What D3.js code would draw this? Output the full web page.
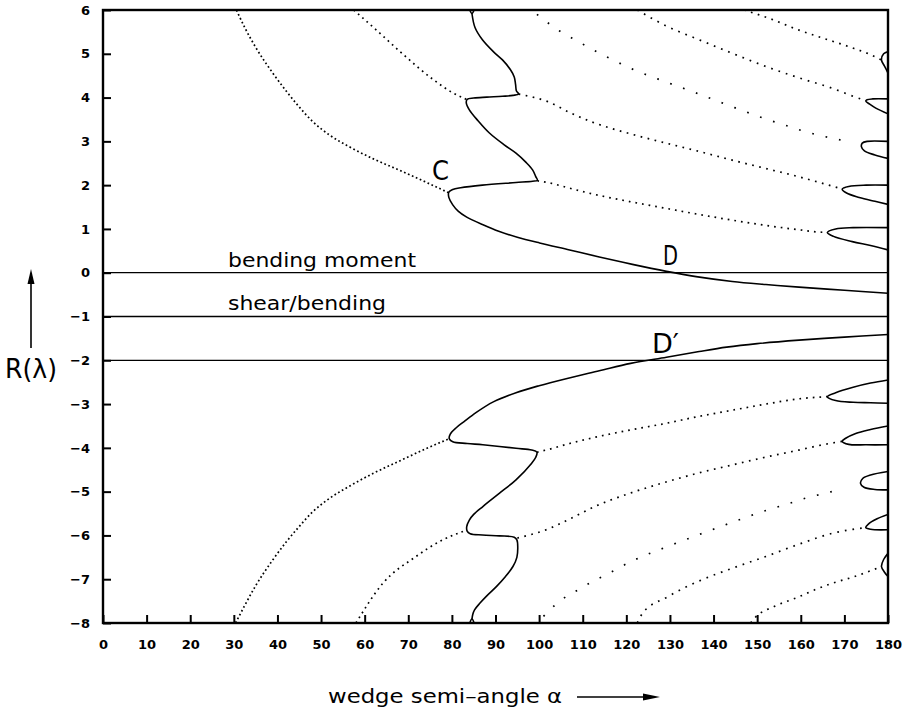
<!DOCTYPE html>
<html>
<head>
<meta charset="utf-8">
<script src="https://d3js.org/d3.v7.min.js"></script>
<style>
  body { margin: 0; background: #fff; }
  text { font-family: "DejaVu Sans", sans-serif; fill: #000; }
</style>
</head>
<body>
<div class="container"></div>
<script>
// Data: [alpha (deg), R]
//--------------------------------------------------------------
var xTicks = [0, 10, 20, 30, 40, 50, 60, 70, 80, 90, 100, 110, 120, 130, 140, 150, 160, 170, 180];
var yTicks = [-8, -7, -6, -5, -4, -3, -2, -1, 0, 1, 2, 3, 4, 5, 6];

// horizontal reference lines
var flatLines = [0, -1, -2];

// solid branches
var solidUpper = [[84.6,5.92],[85.3,5.6],[87.0,5.32],[89.5,5.05],[91.6,4.86],[93.4,4.64],[94.3,4.47],[94.6,4.3],[94.8,4.15],[95.3,4.08],[94.0,4.05],[91.6,4.03],[88.0,4.01],[85.0,3.99],[83.5,3.96],[83.3,3.88],[84.0,3.72],[86.0,3.47],[88.6,3.19],[92.0,2.92],[94.7,2.73],[97.0,2.52],[98.5,2.35],[99.2,2.2],[99.6,2.11],[98.5,2.09],[94.7,2.06],[87.0,2.0],[82.0,1.94],[80.2,1.9],[79.3,1.84],[79.3,1.72],[80.2,1.55],[81.5,1.4],[83.4,1.27],[87.0,1.1],[90.9,0.94],[95.0,0.81],[100.1,0.68],[107.0,0.52],[113.8,0.36],[121.4,0.19],[129.2,0.03],[136.0,-0.09],[144.3,-0.2],[152.0,-0.27],[159.6,-0.33],[170.0,-0.4],[180.0,-0.47]];
var solidLower = [[180,-1.41],[170,-1.47],[159.6,-1.54],[150,-1.62],[143,-1.7],[136.7,-1.8],[129.2,-1.93],[121,-2.07],[113.8,-2.24],[106.2,-2.42],[100,-2.58],[94.7,-2.74],[89.5,-2.95],[85.6,-3.19],[82.8,-3.4],[81.0,-3.54],[79.6,-3.69],[79.4,-3.79],[80.2,-3.86],[83.5,-3.9],[87.1,-3.93],[94.7,-4.01],[98.3,-4.05],[99.5,-4.1],[99.2,-4.22],[98.3,-4.35],[94.7,-4.73],[91.0,-5.03],[87.1,-5.34],[85.0,-5.52],[84.0,-5.65],[83.4,-5.8],[83.5,-5.9],[84.2,-5.96],[87.0,-5.99],[90.9,-6.01],[94.3,-6.04],[94.9,-6.1],[95.1,-6.26],[94.9,-6.5],[94.0,-6.71],[92.2,-6.95],[90.2,-7.17],[88.0,-7.38],[86.4,-7.55],[85.2,-7.7],[84.8,-7.8],[84.6,-7.91]];
var capTop = [[84.1,6.0],[84.6,5.92],[85.1,6.0]];
var capBottom = [[84.1,-8.0],[84.6,-7.91],[85.1,-8.0]];

// small solid loops on the right edge
var loopsUpper = [
  [[180,1.03],[172,1.03],[168,1.0],[166.1,0.92],[167.5,0.83],[171.8,0.71],[176,0.62],[180,0.52]],
  [[180,2.0],[175,2.0],[171,1.97],[169.5,1.91],[170.5,1.82],[173.4,1.72],[177,1.63],[180,1.56]],
  [[180,3.0],[175.2,3.0],[174.1,2.96],[173.9,2.88],[174.6,2.78],[177,2.69],[180,2.61]],
  [[180,3.97],[176.5,3.97],[175.2,3.95],[174.9,3.92],[175.8,3.85],[177.2,3.76],[180,3.63]],
  [[180,5.05],[179.0,5.0],[178.5,4.86],[179.2,4.72],[180,4.56]]
];
var loopsLower = [
  [[180,-2.45],[176,-2.52],[171.8,-2.62],[168,-2.74],[166.1,-2.83],[168,-2.92],[172,-2.96],[176,-2.97],[180,-2.98]],
  [[180,-3.5],[176,-3.58],[172.6,-3.67],[170.3,-3.78],[169.5,-3.85],[171,-3.92],[175,-3.93],[180,-3.93]],
  [[180,-4.54],[176,-4.62],[174.2,-4.7],[173.7,-4.81],[174.5,-4.9],[177,-4.95],[180,-4.96]],
  [[180,-5.52],[177.5,-5.62],[175.5,-5.74],[174.9,-5.82],[176,-5.86],[180,-5.87]],
  [[180,-6.41],[179,-6.55],[178.5,-6.71],[179.2,-6.84],[180,-6.94]]
];

// dotted branches
var dotA = [[30.6,6.0],[32.5,5.6],[35,5.15],[39,4.55],[42,4.15],[44.7,3.82],[48,3.46],[52,3.14],[56.6,2.87],[62,2.6],[68,2.34],[74,2.07],[79.2,1.83]];
var dotA2 = [[99.6,2.1],[102.4,2.05],[107,1.93],[112.2,1.8],[121,1.62],[129.1,1.47],[136.7,1.33],[144.3,1.2],[152,1.08],[159.6,0.98],[164,0.93],[166.1,0.92]];
var dotB = [[57.5,6.0],[62.7,5.54],[68.0,5.06],[75.6,4.42],[80.0,4.12],[83.3,3.96]];
var dotB2 = [[95.3,4.08],[102.4,3.89],[107,3.66],[112.2,3.44],[121,3.17],[129.1,2.96],[136.7,2.77],[144.3,2.57],[152,2.38],[159.6,2.19],[165,2.04],[169.5,1.91]];
var dotC = [[99.5,5.9],[104.7,5.52],[108.8,5.29],[112.2,5.1],[115.3,4.94],[121.4,4.65],[129,4.36],[136.7,4.08],[144.3,3.79],[152,3.51],[157,3.35],[161.1,3.22],[165,3.12],[169.2,3.03]];
var dotD = [[122.5,6.0],[129.5,5.62],[136.7,5.32],[144.3,5.01],[152,4.71],[159.6,4.45],[167.3,4.21],[172,4.03],[174.9,3.93]];
var dotE = [[147,6.0],[153,5.8],[159.6,5.54],[165,5.36],[171.1,5.16],[176,4.98],[178.5,4.86]];

var dotALow = [[30.4,-8.0],[32.5,-7.6],[35,-7.15],[39,-6.55],[42,-6.15],[44.7,-5.83],[48,-5.47],[52,-5.15],[56.6,-4.87],[62,-4.58],[68,-4.3],[74,-4.02],[79.4,-3.79]];
var dotA2Low = [[99.5,-4.1],[102.4,-4.03],[107,-3.9],[112.3,-3.77],[121,-3.59],[129.1,-3.44],[136.7,-3.28],[144.3,-3.14],[152,-3.0],[159.6,-2.88],[166.1,-2.83]];
var dotBLow = [[58.0,-8.0],[64.2,-7.09],[71.8,-6.48],[77.5,-6.12],[83.4,-5.88]];
var dotB2Low = [[95.0,-6.06],[102.4,-5.84],[107.5,-5.6],[113,-5.33],[121,-5.03],[129.1,-4.78],[136.7,-4.57],[144.3,-4.39],[152,-4.21],[159.6,-4.05],[165,-3.93],[169.5,-3.85]];
var dotCLow = [[101,-7.85],[104.7,-7.5],[108.8,-7.25],[112.3,-7.05],[115.3,-6.9],[121.4,-6.58],[129,-6.27],[136.7,-5.98],[144.3,-5.7],[152,-5.43],[157,-5.28],[161.1,-5.15],[165,-5.05],[169.2,-4.95]];
var dotDLow = [[122.5,-8.0],[123.7,-7.78],[129.5,-7.4],[136.7,-7.04],[144.3,-6.75],[152,-6.48],[159.6,-6.2],[167.3,-5.95],[172,-5.86],[174.9,-5.82]];
var dotELow = [[148.5,-8.0],[149.7,-7.86],[154,-7.62],[159.6,-7.4],[163,-7.25],[167.3,-7.09],[172,-6.95],[178.5,-6.71]];

// gap between the dots as seen on each branch
var dotted = [
  { pts: dotA, gap: 2.6 }, { pts: dotA2, gap: 5 }, { pts: dotB, gap: 4 }, { pts: dotB2, gap: 5.5 },
  { pts: dotC, gap: 12 }, { pts: dotD, gap: 6 }, { pts: dotE, gap: 5.5 },
  { pts: dotALow, gap: 2.6 }, { pts: dotA2Low, gap: 5 }, { pts: dotBLow, gap: 4 }, { pts: dotB2Low, gap: 5.5 },
  { pts: dotCLow, gap: 12 }, { pts: dotDLow, gap: 6 }, { pts: dotELow, gap: 5.5 }
];

// Chart area
//--------------------------------------------------------------
var svgWidth = 906;
var svgHeight = 712;

var margin = { top: 10, right: 18, bottom: 89, left: 103 };
var width = svgWidth - margin.left - margin.right;
var height = svgHeight - margin.top - margin.bottom;

var svg = d3.select(".container")
  .append("svg")
  .attr("width", svgWidth)
  .attr("height", svgHeight);

var chartGroup = svg.append("g")
  .attr("transform", `translate(${margin.left}, ${margin.top})`);

var xScale = d3.scaleLinear().domain([0, 180]).range([0, width]);
var yScale = d3.scaleLinear().domain([-8, 6]).range([height, 0]);

svg.append("defs").append("clipPath")
  .attr("id", "plotClip")
  .append("rect")
  .attr("width", width)
  .attr("height", height);

var line = d3.line()
  .x(d => xScale(d[0]))
  .y(d => yScale(d[1]))
  .curve(d3.curveCatmullRom.alpha(0.5));

var smoothLine = d3.line()
  .x(d => xScale(d[0]))
  .y(d => yScale(d[1]))
  .curve(d3.curveMonotoneX);

var plot = chartGroup.append("g").attr("clip-path", "url(#plotClip)");

// reference lines
plot.selectAll(".flat")
  .data(flatLines)
  .enter()
  .append("line")
  .attr("x1", 0)
  .attr("x2", width)
  .attr("y1", d => yScale(d))
  .attr("y2", d => yScale(d))
  .attr("stroke", "#000")
  .attr("stroke-width", 1.3);

// dotted curves
plot.selectAll(".dots")
  .data(dotted)
  .enter()
  .append("path")
  .attr("d", d => smoothLine(d.pts))
  .attr("fill", "none")
  .attr("stroke", "#000")
  .attr("stroke-width", 1.7)
  .attr("stroke-dasharray", d => `1.7 ${d.gap}`);

// solid curves
var solids = [solidUpper, solidLower, capTop, capBottom].concat(loopsUpper, loopsLower);
plot.selectAll(".solid")
  .data(solids)
  .enter()
  .append("path")
  .attr("d", d => line(d))
  .attr("fill", "none")
  .attr("stroke", "#000")
  .attr("stroke-width", 1.6);

// Axes
//--------------------------------------------------------------
var bottomAxis = d3.axisBottom(xScale)
  .tickValues(xTicks)
  .tickSizeInner(-8)
  .tickSizeOuter(0)
  .tickPadding(17);

var leftAxis = d3.axisLeft(yScale)
  .tickValues(yTicks)
  .tickSizeInner(-8)
  .tickSizeOuter(0)
  .tickPadding(13);

var xAxis = chartGroup.append("g")
  .attr("transform", `translate(0, ${height})`)
  .call(bottomAxis);

var yAxis = chartGroup.append("g")
  .call(leftAxis);

[xAxis, yAxis].forEach(function(ax) {
  ax.select(".domain").remove();
  ax.selectAll("line").attr("stroke-width", 2);
  ax.selectAll("text")
    .style("font-family", "DejaVu Sans")
    .style("font-size", "13px")
    .style("font-weight", "bold");
});

// frame
chartGroup.append("rect")
  .attr("width", width)
  .attr("height", height)
  .attr("fill", "none")
  .attr("stroke", "#000")
  .attr("stroke-width", 2.4);

// Labels
//--------------------------------------------------------------
function label(txt, x, y, size, len) {
  return svg.append("text")
    .attr("x", x)
    .attr("y", y)
    .attr("textLength", len)
    .attr("lengthAdjust", "spacingAndGlyphs")
    .style("font-size", size + "px")
    .text(txt);
}

label("bending  moment", 228, 267, 20, 188);
label("shear/bending", 228, 310, 20, 158);
label("C", 432, 180, 27, 17);
label("D", 663, 265, 27, 15);
label("D\u2032", 652, 353, 27, 27);
label("wedge  semi\u2013angle \u03b1", 328, 703, 19, 234);
label("R(\u03bb)", 5, 378, 26, 52);

// x title arrow
svg.append("line")
  .attr("x1", 577).attr("x2", 645)
  .attr("y1", 697).attr("y2", 697)
  .attr("stroke", "#000")
  .attr("stroke-width", 1.6);
svg.append("path")
  .attr("d", "M643,693.5 L660,697 L643,700.5 Z")
  .attr("fill", "#000");

// y title arrow
svg.append("line")
  .attr("x1", 31).attr("x2", 31)
  .attr("y1", 348).attr("y2", 280)
  .attr("stroke", "#000")
  .attr("stroke-width", 1.6);
svg.append("path")
  .attr("d", "M27.5,284 L31,269 L34.5,284 Z")
  .attr("fill", "#000");
</script>
</body>
</html>
